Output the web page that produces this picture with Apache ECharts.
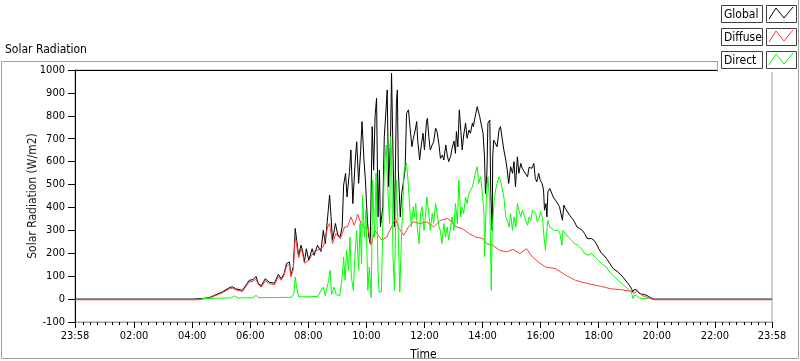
<!DOCTYPE html>
<html><head><meta charset="utf-8">
<script src="https://cdn.jsdelivr.net/npm/echarts@6/dist/echarts.min.js"></script>
<style>html,body{margin:0;padding:0;background:#fff}#c{width:800px;height:361px}</style>
</head><body><div id="c"></div>
<script>
// time in minutes after 00:00 (23:58 of previous day = -2), value in W/m2
const globalData = [[-2,0],[240,0],[259,2],[275,6],[302,31],[317,50],[323,54],[330,45],[344,38],[352,64],[358,82],[366,85],[372,99],[377,67],[383,58],[391,89],[399,74],[410,69],[418,108],[424,89],[430,111],[435,155],[441,162],[444,104],[449,140],[453,308],[456,257],[460,191],[465,235],[468,213],[472,162],[476,220],[481,169],[488,220],[492,191],[499,235],[506,208],[511,300],[515,242],[520,359],[524,454],[527,359],[530,257],[536,330],[541,279],[546,272],[550,315],[553,498],[557,549],[560,446],[565,556],[568,651],[572,417],[577,607],[580,687],[584,505],[588,643],[591,775],[595,607],[598,519],[602,344],[605,272],[608,242],[612,753],[615,563],[618,800],[621,877],[624,359],[627,563],[629,315],[634,403],[637,709],[641,840],[643,913],[646,490],[650,709],[652,986],[655,636],[658,315],[662,855],[664,913],[666,563],[670,359],[673,461],[677,519],[680,563],[683,811],[687,826],[690,753],[694,665],[697,702],[701,738],[704,775],[706,694],[710,607],[713,665],[717,724],[720,651],[724,768],[726,789],[729,709],[732,651],[736,673],[739,687],[743,746],[746,731],[750,673],[753,614],[757,629],[760,607],[764,673],[767,629],[770,600],[774,622],[777,658],[781,690],[784,636],[786,731],[789,665],[792,826],[795,738],[798,651],[801,716],[805,768],[808,702],[812,738],[815,724],[819,768],[821,753],[826,811],[829,840],[832,848],[834,797],[837,804],[841,724],[844,621],[846,461],[849,549],[851,768],[855,782],[857,461],[860,300],[861,621],[863,694],[867,702],[870,665],[874,738],[877,753],[881,694],[884,651],[888,607],[891,563],[894,505],[898,578],[902,549],[905,600],[908,490],[912,621],[915,549],[919,592],[922,571],[926,556],[929,563],[933,534],[936,575],[942,571],[946,592],[949,527],[952,512],[956,549],[959,519],[963,505],[966,476],[968,388],[971,417],[973,359],[975,468],[979,483],[982,476],[986,446],[989,439],[993,424],[996,432],[999,403],[1003,410],[1005,344],[1008,410],[1011,395],[1015,388],[1020,366],[1025,352],[1030,337],[1035,315],[1041,308],[1046,300],[1051,286],[1056,264],[1060,271],[1065,264],[1070,257],[1075,242],[1080,220],[1086,199],[1091,191],[1096,177],[1103,155],[1110,133],[1120,118],[1130,96],[1141,67],[1148,45],[1150,31],[1153,41],[1158,41],[1163,26],[1168,22],[1175,20],[1182,13],[1189,4],[1194,0],[1438,0]];

const diffuseData = [[-2,-3],[255,-3],[260,0],[275,4],[302,27],[317,45],[323,48],[330,40],[344,33],[352,57],[358,75],[366,78],[372,88],[377,62],[383,52],[391,80],[399,68],[410,63],[418,98],[424,82],[430,103],[435,145],[441,150],[444,97],[449,130],[453,270],[456,235],[460,180],[465,220],[468,200],[472,157],[481,169],[492,208],[499,213],[511,228],[520,315],[524,330],[530,242],[537,286],[546,264],[555,315],[561,315],[568,359],[575,322],[582,370],[589,330],[596,308],[603,315],[610,235],[612,240],[617,300],[622,286],[632,257],[642,271],[652,315],[660,352],[667,310],[677,279],[687,315],[697,337],[711,330],[725,337],[739,315],[753,344],[767,352],[777,337],[785,315],[798,308],[812,286],[826,271],[841,264],[848,242],[861,235],[875,213],[889,206],[903,217],[917,199],[931,220],[943,184],[955,162],[970,140],[991,133],[1012,104],[1032,82],[1053,70],[1074,60],[1084,56],[1105,45],[1126,41],[1146,35],[1153,26],[1160,35],[1170,16],[1188,1],[1196,-3],[1438,-3]];

const directData = [[261,2],[290,4],[320,5],[327,14],[335,5],[365,6],[372,16],[378,6],[420,7],[445,8],[450,20],[453,96],[456,50],[460,10],[480,10],[500,12],[506,38],[511,52],[515,15],[522,82],[525,126],[528,19],[533,52],[538,19],[545,15],[550,96],[553,184],[556,82],[559,213],[563,126],[566,271],[569,96],[573,38],[577,213],[580,300],[584,126],[587,330],[590,155],[592,454],[596,271],[599,388],[603,38],[606,140],[610,7],[613,519],[617,271],[620,549],[624,126],[626,31],[631,31],[634,330],[637,563],[641,673],[644,490],[648,330],[650,709],[652,636],[655,184],[658,38],[662,519],[665,344],[669,31],[672,242],[678,563],[683,592],[686,519],[690,388],[693,315],[697,403],[699,359],[702,417],[705,315],[709,242],[712,373],[715,403],[719,300],[722,359],[725,446],[729,373],[732,300],[736,373],[739,330],[743,417],[746,373],[750,315],[753,300],[756,242],[760,330],[763,271],[767,315],[770,257],[774,249],[777,359],[781,300],[784,417],[788,330],[791,519],[795,359],[798,403],[801,373],[805,446],[808,417],[812,461],[815,476],[819,490],[822,519],[825,549],[829,578],[832,505],[836,534],[839,476],[843,373],[844,184],[848,446],[851,534],[855,417],[858,38],[860,300],[864,432],[867,476],[870,505],[874,534],[877,519],[881,476],[884,446],[888,359],[891,344],[895,315],[898,373],[902,300],[905,359],[909,315],[912,417],[915,388],[919,359],[922,388],[926,366],[929,344],[933,322],[936,359],[940,344],[943,388],[947,395],[950,373],[953,337],[957,352],[960,381],[964,352],[967,271],[970,213],[972,279],[975,344],[979,315],[982,308],[988,300],[992,293],[997,300],[1000,286],[1004,235],[1006,300],[1017,271],[1024,257],[1030,242],[1037,235],[1044,220],[1051,199],[1058,191],[1065,199],[1072,184],[1079,169],[1086,155],[1096,140],[1103,118],[1113,96],[1124,74],[1134,56],[1144,38],[1149,20],[1151,2],[1153,16],[1158,16],[1165,4],[1179,2],[1186,9]];

const xMajorTicks = [-2,120,240,360,480,600,720,840,960,1080,1200,1320,1438];
const xMajorLabels = ['23:58','02:00','04:00','06:00','08:00','10:00','12:00','14:00','16:00','18:00','20:00','22:00','23:58'];
const seriesNames = ['Global','Diffuse','Direct'];
const seriesColors = ['#000000','#ff3c3c','#00ff00'];
const titleText = 'Solar Radiation';
const yName = 'Solar Radiation (W/m2)';
const xName = 'Time';

const FONT = 'Tahoma, "DejaVu Sans Condensed", "DejaVu Sans", sans-serif';
const minorTicks = [];
for (let m = 0; m <= 1425; m += 15) if (m % 120 !== 0) minorTicks.push(m);

const chart = echarts.init(document.getElementById('c'), null, {renderer: 'canvas'});
const labelMap = {};
xMajorTicks.forEach((t, i) => labelMap[t] = xMajorLabels[i]);

const legendGraphics = [];
legendGraphics.push({type:'rect', shape:{x:717, y:0, width:83, height:72}, style:{fill:'#fff'}, z:100});
legendGraphics.push({type:'line', shape:{x1:717.5, y1:61, x2:717.5, y2:72}, style:{stroke:'#a0a0a0', lineWidth:1}, z:101});
legendGraphics.push({type:'line', shape:{x1:798.5, y1:0, x2:798.5, y2:72}, style:{stroke:'#a0a0a0', lineWidth:1}, z:101});
seriesNames.forEach((n, i) => {
  const top = 5 + i * 23;
  legendGraphics.push({type:'rect', shape:{x:721.5, y:top + 0.5, width:41, height:17}, style:{fill:'#fff', stroke:'#404040', lineWidth:1}, z:101});
  legendGraphics.push({type:'text', style:{x:724, y:top + 9.5, text:n, fill:'#000', font:'12px ' + FONT, textVerticalAlign:'middle'}, z:102});
  legendGraphics.push({type:'rect', shape:{x:766.5, y:top + 0.5, width:30, height:17}, style:{fill:'#fff', stroke:'#404040', lineWidth:1}, z:101});
  legendGraphics.push({type:'polyline', shape:{points:[[769, top + 14],[776, top + 3],[784, top + 13],[793, top + 2]]}, style:{stroke:seriesColors[i], lineWidth:1, fill:null}, z:102});
});

chart.setOption({
  animation: false,
  backgroundColor: '#fff',
  textStyle: {fontFamily: FONT},
  grid: {left: 75, right: 28, top: 70, bottom: 39, containLabel: false, outerBoundsMode: 'none',
         show: true, borderColor: '#a0a0a0', borderWidth: 1, backgroundColor: '#fff'},
  xAxis: [{
    type: 'value', min: -2, max: 1438, position: 'bottom',
    axisLine: {show: true, onZero: false, lineStyle: {color: '#a0a0a0', width: 1}},
    axisTick: {show: true, customValues: xMajorTicks, length: 6, lineStyle: {color: '#000', width: 1}},
    axisLabel: {customValues: xMajorTicks, formatter: v => labelMap[v] || '', color: '#000', fontSize: 11, margin: 9, fontFamily: FONT},
    splitLine: {show: false},
    name: xName, nameLocation: 'middle', nameGap: 27, nameMoveOverlap: false,
    nameTextStyle: {color: '#000', fontSize: 12, fontFamily: FONT}
  }, {
    type: 'value', min: -2, max: 1438, position: 'bottom', gridIndex: 0,
    axisLine: {show: false, onZero: false},
    axisTick: {show: true, customValues: minorTicks, length: 3, lineStyle: {color: '#000', width: 1}},
    axisLabel: {show: false},
    splitLine: {show: false}
  }, {
    type: 'value', min: -2, max: 1438, position: 'top', gridIndex: 0,
    axisLine: {show: true, onZero: false, lineStyle: {color: '#000', width: 1}},
    axisTick: {show: false}, axisLabel: {show: false}, splitLine: {show: false}
  }],
  yAxis: {
    type: 'value', min: -100, max: 1000, interval: 100,
    axisLine: {show: true, onZero: false, lineStyle: {color: '#000', width: 1}},
    axisTick: {show: true, length: 7, lineStyle: {color: '#000'}},
    axisLabel: {color: '#000', fontSize: 11, margin: 10, fontFamily: FONT, formatter: v => String(v)},
    splitLine: {show: false},
    name: yName, nameLocation: 'middle', nameGap: 36, nameMoveOverlap: false,
    nameTextStyle: {color: '#1a1a1a', fontSize: 12, fontFamily: FONT}
  },
  graphic: [
    {type:'rect', shape:{x:1.5, y:61.5, width:797, height:297}, style:{fill:null, stroke:'#a0a0a0', lineWidth:1}, z:-10, silent:true},
    {type:'text', style:{x:5, y:50, text:titleText, fill:'#000', font:'12px ' + FONT, textVerticalAlign:'middle'}, z:10},
    ...legendGraphics
  ],
  series: [
    {name: seriesNames[0], type: 'line', data: globalData, showSymbol: false, lineStyle: {color: seriesColors[0], width: 1}, itemStyle: {color: seriesColors[0]}, z: 2},
    {name: seriesNames[1], type: 'line', data: diffuseData, showSymbol: false, lineStyle: {color: seriesColors[1], width: 1}, itemStyle: {color: seriesColors[1]}, z: 3},
    {name: seriesNames[2], type: 'line', data: directData, showSymbol: false, lineStyle: {color: seriesColors[2], width: 1}, itemStyle: {color: seriesColors[2]}, z: 4}
  ]
});
</script></body></html>
